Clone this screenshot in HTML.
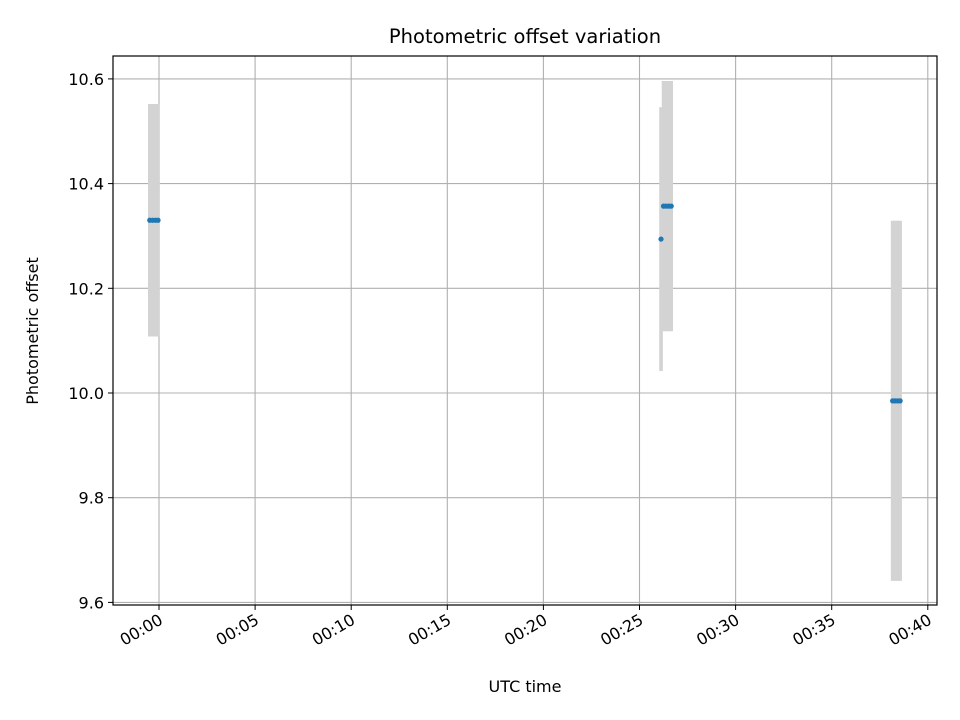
<!DOCTYPE html>
<html><head><meta charset="utf-8"><style>
html,body{margin:0;padding:0;background:#fff;}
svg{display:block;font-family:"DejaVu Sans","Liberation Sans",sans-serif;}
</style></head><body>
<svg id="chart" width="960" height="720" xmlns="http://www.w3.org/2000/svg">
<rect width="960" height="720" fill="#fff"/>
<g id="grid"></g>
<g id="errs"></g>
<g id="pts"></g>
<rect x="113" y="56" width="824" height="549" fill="none" stroke="#000" stroke-width="1.2"/>
<g id="axes"></g>
<text x="525" y="43" text-anchor="middle" font-size="19.5">Photometric offset variation</text>
<text x="525" y="692" text-anchor="middle" font-size="16">UTC time</text>
<text transform="translate(38,331) rotate(-90)" text-anchor="middle" font-size="16">Photometric offset</text>
</svg>
<script>
const times=[-0.48,-0.33,-0.18,-0.05,26.12,26.25,26.38,26.52,26.65,38.17,38.3,38.43,38.56];
const values=[10.33,10.33,10.33,10.33,10.294,10.357,10.357,10.357,10.357,9.985,9.985,9.985,9.985];
const errors=[0.222,0.222,0.222,0.222,0.252,0.239,0.239,0.239,0.239,0.344,0.344,0.344,0.344];
const xTicks=[0,5,10,15,20,25,30,35,40];
const xTickLabels=["00:00","00:05","00:10","00:15","00:20","00:25","00:30","00:35","00:40"];
const yTicks=[9.6,9.8,10.0,10.2,10.4,10.6];
const yTickLabels=["9.6","9.8","10.0","10.2","10.4","10.6"];
const NS="http://www.w3.org/2000/svg";
const L=113,R=937,T=56,B=605;
function xs(m){return 159+m*19.22;}
function ys(v){return 393-(v-10)*523.5;}
function mk(tag,at,parent){const e=document.createElementNS(NS,tag);for(const k in at)e.setAttribute(k,at[k]);document.getElementById(parent).appendChild(e);return e;}
xTicks.forEach((t,i)=>{
 const x=xs(t);
 const g=mk('line',{x1:x,x2:x,y1:T,y2:B,stroke:'#b0b0b0','stroke-width':1.1},'grid');
 
 
 const tk=mk('line',{x1:x,x2:x,y1:B,y2:B+5,stroke:'#000','stroke-width':1},'axes');
 
 
 const tx=mk('text',{transform:`translate(${x+5},${B+18}) rotate(-30)`,'text-anchor':'end','font-size':16},'axes');
 tx.textContent=xTickLabels[i];
 
 
});
yTicks.forEach((v,i)=>{
 const y=ys(v);
 const g=mk('line',{x1:L,x2:R,y1:y,y2:y,stroke:'#b0b0b0','stroke-width':1.1},'grid');
 
 
 const tk=mk('line',{x1:L-5,x2:L,y1:y,y2:y,stroke:'#000','stroke-width':1},'axes');
 
 
 const tx=mk('text',{x:L-9,y:y+6,'text-anchor':'end','font-size':16},'axes');
 tx.textContent=yTickLabels[i];
 
 
});
times.forEach((t,i)=>{
 const x=xs(t);
 const e=mk('line',{x1:x,x2:x,y1:ys(values[i]+errors[i]),y2:ys(values[i]-errors[i]),stroke:'#d3d3d3','stroke-width':3.6},'errs');
 
 
});
times.forEach((t,i)=>{
 const p=mk('circle',{cx:xs(t),cy:ys(values[i]),r:2.6,fill:'#1f77b4'},'pts');
 
 
});
</script>
</body></html>
